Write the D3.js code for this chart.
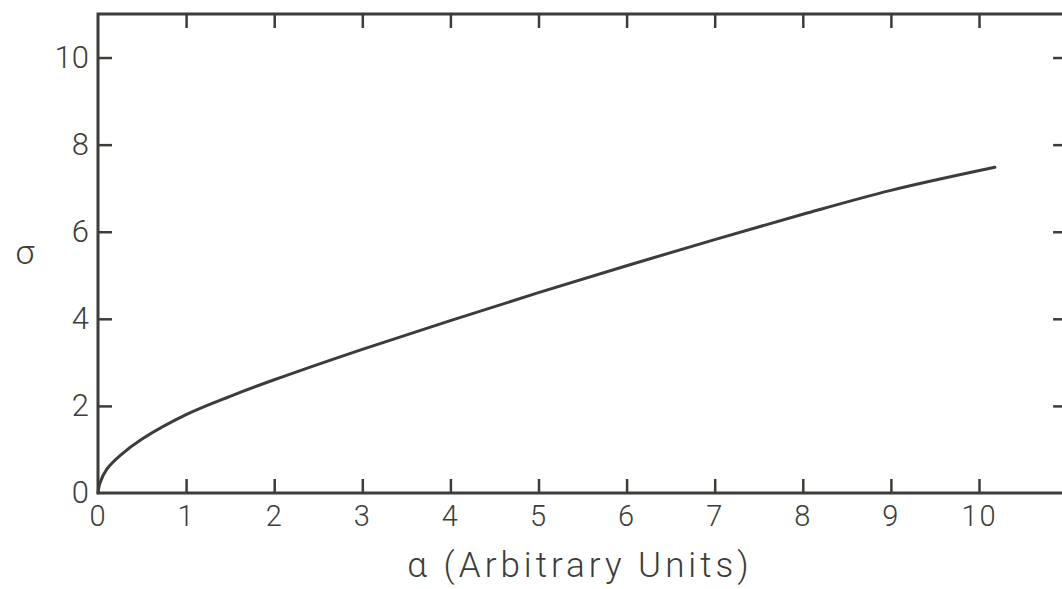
<!DOCTYPE html>
<html>
<head>
<meta charset="utf-8">
<script src="https://cdn.jsdelivr.net/npm/d3@7"></script>
<style>
  body { margin: 0; background: #fff; }
  svg { display: block; }
  .tick text { font-family: Roboto, "DejaVu Sans", sans-serif; font-weight: 300; fill: #3b3d38; }
</style>
</head>
<body>
<svg width="1062" height="589"></svg>
<script>
// curve
const alpha = [0, 0.02, 0.1, 0.25, 0.5, 1, 1.5, 2, 3, 4, 5, 6, 7, 8, 9, 10.18];
const sigma = [0, 0.22, 0.55, 0.86, 1.24, 1.8, 2.22, 2.6, 3.3, 3.96, 4.6, 5.22, 5.82, 6.4, 6.95, 7.48];
const xTicks = [0, 1, 2, 3, 4, 5, 6, 7, 8, 9, 10];
const yTicks = [0, 2, 4, 6, 8, 10];

const ink = "#3b3d38";
const svg = d3.select("svg");
const marginLeft = 98, marginTop = 14;

const x = d3.scaleLinear().domain([0, 11]).range([marginLeft, marginLeft + 11 * 88.1]);
const y = d3.scaleLinear().domain([0, 11]).range([493, marginTop]);

// frame
svg.append("rect")
  .attr("x", x(0)).attr("y", y(11))
  .attr("width", x(11) - x(0)).attr("height", y(0) - y(11))
  .attr("fill", "none").attr("stroke", ink).attr("stroke-width", 3);

function styleAxis(g, showText) {
  g.select(".domain").remove();
  g.selectAll(".tick line").attr("stroke", ink).attr("stroke-width", 2.5);
  g.selectAll(".tick").filter(d => d === 0).select("line").remove();
  if (!showText) g.selectAll(".tick text").remove();
}

const bottom = svg.append("g")
  .attr("transform", `translate(0,${y(0)})`)
  .call(d3.axisBottom(x).tickValues(xTicks).tickSizeInner(-14).tickSizeOuter(0).tickPadding(12).tickFormat(d3.format("d")))
  .call(g => styleAxis(g, true));
bottom.selectAll(".tick text").attr("font-size", 29).attr("letter-spacing", 2);

svg.append("g")
  .attr("transform", `translate(0,${y(11)})`)
  .call(d3.axisTop(x).tickValues(xTicks).tickSizeInner(-14).tickSizeOuter(0))
  .call(g => styleAxis(g, false));

const leftAxis = svg.append("g")
  .attr("transform", `translate(${x(0)},0)`)
  .call(d3.axisLeft(y).tickValues(yTicks).tickSizeInner(-14).tickSizeOuter(0).tickPadding(9).tickFormat(d3.format("d")))
  .call(g => styleAxis(g, true));
leftAxis.selectAll(".tick text").attr("font-size", 31);

svg.append("g")
  .attr("transform", `translate(${x(11)},0)`)
  .call(d3.axisRight(y).tickValues(yTicks).tickSizeInner(-14).tickSizeOuter(0))
  .call(g => styleAxis(g, false));

// curve
const pts = alpha.map((a, i) => [a, sigma[i]]);
svg.append("path")
  .datum(pts)
  .attr("fill", "none")
  .attr("stroke", ink)
  .attr("stroke-width", 3)
  .attr("stroke-linecap", "round")
  .attr("d", d3.line().x(d => x(d[0])).y(d => y(d[1])).curve(d3.curveCatmullRom.alpha(0.5)));

// axis titles
svg.append("text")
  .attr("x", 580).attr("y", 577)
  .attr("text-anchor", "middle")
  .attr("font-family", "Roboto, 'DejaVu Sans', sans-serif")
  .attr("font-weight", 300)
  .attr("font-size", 35)
  .attr("letter-spacing", 4)
  .attr("fill", ink)
  .text("α (Arbitrary Units)");

svg.append("text")
  .attr("x", 25).attr("y", 264)
  .attr("text-anchor", "middle")
  .attr("font-family", "Roboto, 'DejaVu Sans', sans-serif")
  .attr("font-weight", 300)
  .attr("font-size", 34)
  .attr("fill", ink)
  .text("σ");
</script>
</body>
</html>
